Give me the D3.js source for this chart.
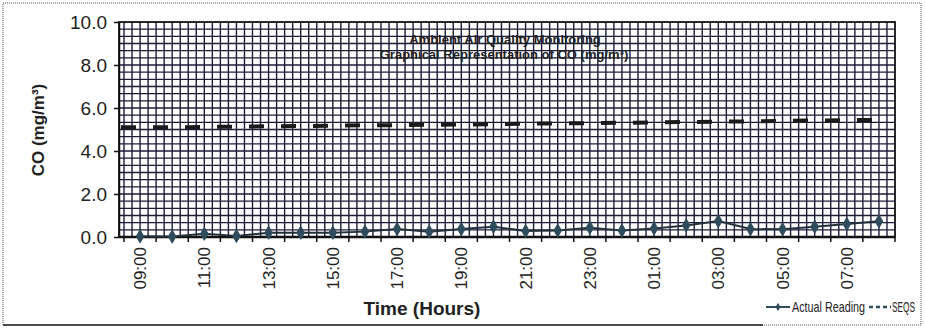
<!DOCTYPE html>
<html>
<head>
<meta charset="utf-8">
<script src="https://cdn.jsdelivr.net/npm/d3@7"></script>
<style>
  body { margin: 0; background: #fff; }
</style>
</head>
<body>
<script>
var hours = ["09:00","10:00","11:00","12:00","13:00","14:00","15:00","16:00",
  "17:00","18:00","19:00","20:00","21:00","22:00","23:00","00:00",
  "01:00","02:00","03:00","04:00","05:00","06:00","07:00","08:00"];
var actual = [0.03, 0.02, 0.15, 0.05, 0.2, 0.2, 0.2, 0.25, 0.37, 0.25, 0.37, 0.48,
  0.28, 0.3, 0.43, 0.3, 0.4, 0.54, 0.74, 0.37, 0.36, 0.48, 0.6, 0.73];
var seqs = [5.1, 5.1, 5.12, 5.13, 5.15, 5.16, 5.18, 5.2, 5.2, 5.22, 5.23, 5.25,
  5.27, 5.28, 5.3, 5.31, 5.33, 5.35, 5.36, 5.38, 5.4, 5.42, 5.43, 5.45];
var yTicks = [0, 2, 4, 6, 8, 10];

var width = 925, height = 329;
var plotL = 119, plotR = 895, plotT = 22, plotB = 237;
var font = "'Liberation Sans', Arial, sans-serif";
var narrow = "'Liberation Sans Narrow', 'Liberation Sans', sans-serif";

var svg = d3.select("body").append("svg")
  .attr("width", width)
  .attr("height", height)
  .style("font-family", font);

// outer frame
svg.append("rect")
  .attr("x", 3).attr("y", 3).attr("width", 918).attr("height", 322)
  .attr("fill", "none").attr("stroke", "#555").attr("stroke-width", 1)
  .attr("stroke-dasharray", "1,1");
svg.append("line")
  .attr("x1", 3).attr("x2", 763).attr("y1", 325).attr("y2", 325)
  .attr("stroke", "#222").attr("stroke-width", 1.5);

var x = d3.scaleBand().domain(hours).range([124, plotR]);
var y = d3.scaleLinear().domain([0, 10]).range([plotB, plotT]);

// dense pattern grid: 4 columns per hour, 3 rows per unit
var grid = svg.append("g").attr("stroke", "#1c1c38").attr("stroke-width", 1.4);
var vx = d3.range(0, hours.length * 4 + 1).map(function(i) {
  return 124 + i * x.step() / 4;
}).filter(function(v) { return v > plotL && v < plotR; });
grid.selectAll("line.v").data(vx).join("line")
  .attr("class", "v")
  .attr("x1", function(d) { return d; }).attr("x2", function(d) { return d; })
  .attr("y1", plotT).attr("y2", plotB);
grid.selectAll("line.h").data(d3.range(1, 30)).join("line")
  .attr("class", "h")
  .attr("x1", plotL).attr("x2", plotR)
  .attr("y1", function(d) { return y(d / 3); }).attr("y2", function(d) { return y(d / 3); });

svg.append("rect")
  .attr("x", plotL).attr("y", plotT).attr("width", plotR - plotL).attr("height", plotB - plotT)
  .attr("fill", "none").attr("stroke", "#111").attr("stroke-width", 1.8);

// y axis
var yAxis = d3.axisLeft(y).tickValues(yTicks).tickFormat(d3.format(".1f")).tickSize(5).tickSizeOuter(0);
var gy = svg.append("g").attr("transform", "translate(" + plotL + ",0)").call(yAxis);
gy.attr("font-family", null);
gy.select(".domain").attr("stroke", "#111").attr("stroke-width", 1.5);
gy.selectAll(".tick line").attr("stroke", "#111").attr("stroke-width", 1.5);
gy.selectAll(".tick text")
  .attr("x", -12)
  .style("font-family", font)
  .style("font-size", "19px").attr("fill", "#222");

// x axis, ticks between categories
var xEdges = hours.map(function(h) { return x(h); }).concat([x.range()[1]]);
var gx = svg.append("g");
gx.append("line").attr("x1", plotL).attr("x2", plotR).attr("y1", plotB).attr("y2", plotB)
  .attr("stroke", "#111").attr("stroke-width", 2.5);
gx.selectAll("line.t").data(xEdges).join("line")
  .attr("class", "t")
  .attr("x1", function(d) { return d; }).attr("x2", function(d) { return d; })
  .attr("y1", plotB).attr("y2", plotB + 5)
  .attr("stroke", "#111").attr("stroke-width", 1.5);
gx.selectAll("text").data(hours.filter(function(h, i) { return i % 2 === 0; })).join("text")
  .attr("transform", function(d) {
    return "translate(" + (x(d) + x.bandwidth() / 2 + 6) + "," + (plotB + 10) + ") rotate(-90)";
  })
  .attr("text-anchor", "end")
  .style("font-family", font)
  .style("font-size", "17px").attr("fill", "#222")
  .text(function(d) { return d; });

// SEQS dashed line
var line = d3.line()
  .x(function(d, i) { return x(hours[i]) + x.bandwidth() / 2; })
  .y(function(d) { return y(d); });
var seqsLine = d3.line()
  .x(function(d, i) { return i === 0 ? plotL + 2 : x(hours[i]) + x.bandwidth() / 2; })
  .y(function(d) { return y(d); });
svg.append("path")
  .attr("d", seqsLine(seqs))
  .attr("fill", "none").attr("stroke", "#1a1a1a").attr("stroke-width", 4)
  .attr("stroke-dasharray", "15,17");

// actual reading
svg.append("path")
  .attr("d", line(actual))
  .attr("fill", "none").attr("stroke", "#24313a").attr("stroke-width", 2);
svg.selectAll("path.pt").data(actual).join("path")
  .attr("class", "pt")
  .attr("d", d3.symbol().type(d3.symbolDiamond).size(50))
  .attr("transform", function(d, i) {
    return "translate(" + (x(hours[i]) + x.bandwidth() / 2) + "," + y(d) + ")";
  })
  .attr("fill", "#2f4c5c").attr("stroke", "#2f4c5c");

// titles
svg.append("text").attr("x", 505).attr("y", 44).attr("text-anchor", "middle")
  .style("font-size", "13px").style("font-weight", "bold").attr("fill", "#222")
  .text("Ambient Air Quality Monitoring");
svg.append("text").attr("x", 504).attr("y", 59).attr("text-anchor", "middle")
  .style("font-size", "13px").style("font-weight", "bold").attr("fill", "#222")
  .text("Graphical Representation of CO (mg/m³)");

svg.append("text")
  .attr("transform", "translate(44,130) rotate(-90)")
  .attr("text-anchor", "middle")
  .style("font-size", "17px").style("font-weight", "bold").attr("fill", "#222")
  .text("CO (mg/m³)");

svg.append("text").attr("x", 422).attr("y", 315).attr("text-anchor", "middle")
  .style("font-size", "19px").style("font-weight", "bold").attr("fill", "#222")
  .text("Time (Hours)");

// legend
var lg = svg.append("g");
lg.append("line").attr("x1", 766).attr("x2", 790).attr("y1", 307).attr("y2", 307)
  .attr("stroke", "#2f4c5c").attr("stroke-width", 2);
lg.append("path").attr("d", d3.symbol().type(d3.symbolDiamond).size(20))
  .attr("transform", "translate(778,307)").attr("fill", "#2f4c5c");
lg.append("text").attr("x", 792).attr("y", 312)
  .style("font-family", narrow)
  .style("font-size", "15px").attr("fill", "#222")
  .attr("textLength", 73).attr("lengthAdjust", "spacingAndGlyphs")
  .text("Actual Reading");
lg.append("line").attr("x1", 869).attr("x2", 891).attr("y1", 307).attr("y2", 307)
  .attr("stroke", "#2f4c5c").attr("stroke-width", 2.5).attr("stroke-dasharray", "4,3");
lg.append("text").attr("x", 892).attr("y", 312)
  .style("font-family", narrow)
  .style("font-size", "15px").attr("fill", "#222")
  .attr("textLength", 23).attr("lengthAdjust", "spacingAndGlyphs")
  .text("SEQS");
</script>
</body>
</html>
